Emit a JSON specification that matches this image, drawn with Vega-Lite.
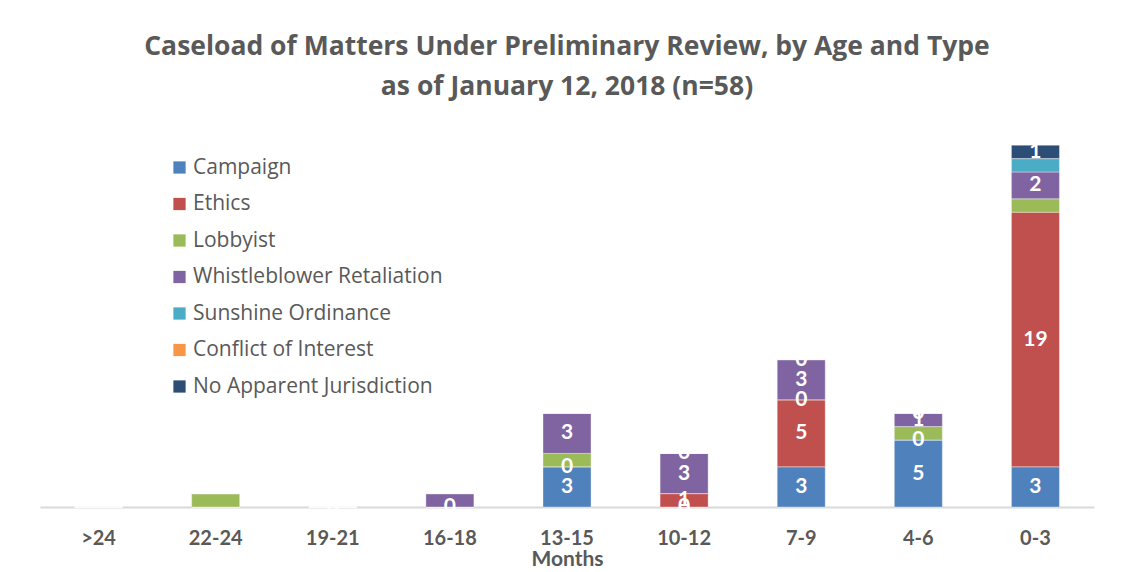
{
  "$schema": "https://vega.github.io/schema/vega-lite/v6.json",
  "width": 1054,
  "height": 402,
  "autosize": "none",
  "padding": {"left": 40, "top": 105, "right": 28, "bottom": 65},
  "background": "white",
  "title": {
    "text": ["Caseload of Matters Under Preliminary Review, by Age and Type", "as of January 12, 2018 (n=58)"],
    "font": "Open Sans",
    "fontSize": 26.5,
    "fontWeight": "bold",
    "color": "#595959",
    "lineHeight": 39.5,
    "anchor": "middle",
    "offset": 5
  },
  "config": {
    "view": {"stroke": null},
    "font": "Lato"
  },
  "datasets": {
    "cases": [
      {"age": ">24", "type": "Campaign", "count": 0, "label": ""},
      {"age": ">24", "type": "Ethics", "count": 0, "label": ""},
      {"age": ">24", "type": "Lobbyist", "count": 0, "label": ""},
      {"age": ">24", "type": "Whistleblower Retaliation", "count": 0, "label": ""},
      {"age": ">24", "type": "Sunshine Ordinance", "count": 0, "label": ""},
      {"age": ">24", "type": "Conflict of Interest", "count": 0, "label": ""},
      {"age": ">24", "type": "No Apparent Jurisdiction", "count": 0, "label": ""},
      {"age": "22-24", "type": "Campaign", "count": 0, "label": ""},
      {"age": "22-24", "type": "Ethics", "count": 0, "label": ""},
      {"age": "22-24", "type": "Lobbyist", "count": 1, "label": ""},
      {"age": "22-24", "type": "Whistleblower Retaliation", "count": 0, "label": ""},
      {"age": "22-24", "type": "Sunshine Ordinance", "count": 0, "label": ""},
      {"age": "22-24", "type": "Conflict of Interest", "count": 0, "label": ""},
      {"age": "22-24", "type": "No Apparent Jurisdiction", "count": 0, "label": ""},
      {"age": "19-21", "type": "Campaign", "count": 0, "label": "0"},
      {"age": "19-21", "type": "Ethics", "count": 0, "label": ""},
      {"age": "19-21", "type": "Lobbyist", "count": 0, "label": ""},
      {"age": "19-21", "type": "Whistleblower Retaliation", "count": 0, "label": ""},
      {"age": "19-21", "type": "Sunshine Ordinance", "count": 0, "label": ""},
      {"age": "19-21", "type": "Conflict of Interest", "count": 0, "label": ""},
      {"age": "19-21", "type": "No Apparent Jurisdiction", "count": 0, "label": ""},
      {"age": "16-18", "type": "Campaign", "count": 0, "label": "0"},
      {"age": "16-18", "type": "Ethics", "count": 0, "label": ""},
      {"age": "16-18", "type": "Lobbyist", "count": 0, "label": ""},
      {"age": "16-18", "type": "Whistleblower Retaliation", "count": 1, "label": ""},
      {"age": "16-18", "type": "Sunshine Ordinance", "count": 0, "label": ""},
      {"age": "16-18", "type": "Conflict of Interest", "count": 0, "label": ""},
      {"age": "16-18", "type": "No Apparent Jurisdiction", "count": 0, "label": ""},
      {"age": "13-15", "type": "Campaign", "count": 3, "label": "3"},
      {"age": "13-15", "type": "Ethics", "count": 0, "label": "0"},
      {"age": "13-15", "type": "Lobbyist", "count": 1, "label": ""},
      {"age": "13-15", "type": "Whistleblower Retaliation", "count": 3, "label": "3"},
      {"age": "13-15", "type": "Sunshine Ordinance", "count": 0, "label": ""},
      {"age": "13-15", "type": "Conflict of Interest", "count": 0, "label": ""},
      {"age": "13-15", "type": "No Apparent Jurisdiction", "count": 0, "label": ""},
      {"age": "10-12", "type": "Campaign", "count": 0, "label": "0"},
      {"age": "10-12", "type": "Ethics", "count": 1, "label": "1"},
      {"age": "10-12", "type": "Lobbyist", "count": 0, "label": ""},
      {"age": "10-12", "type": "Whistleblower Retaliation", "count": 3, "label": "3"},
      {"age": "10-12", "type": "Sunshine Ordinance", "count": 0, "label": ""},
      {"age": "10-12", "type": "Conflict of Interest", "count": 0, "label": ""},
      {"age": "10-12", "type": "No Apparent Jurisdiction", "count": 0, "label": "0"},
      {"age": "7-9", "type": "Campaign", "count": 3, "label": "3"},
      {"age": "7-9", "type": "Ethics", "count": 5, "label": "5"},
      {"age": "7-9", "type": "Lobbyist", "count": 0, "label": "0"},
      {"age": "7-9", "type": "Whistleblower Retaliation", "count": 3, "label": "3"},
      {"age": "7-9", "type": "Sunshine Ordinance", "count": 0, "label": ""},
      {"age": "7-9", "type": "Conflict of Interest", "count": 0, "label": ""},
      {"age": "7-9", "type": "No Apparent Jurisdiction", "count": 0, "label": "0"},
      {"age": "4-6", "type": "Campaign", "count": 5, "label": "5"},
      {"age": "4-6", "type": "Ethics", "count": 0, "label": "0"},
      {"age": "4-6", "type": "Lobbyist", "count": 1, "label": ""},
      {"age": "4-6", "type": "Whistleblower Retaliation", "count": 1, "label": "1"},
      {"age": "4-6", "type": "Sunshine Ordinance", "count": 0, "label": ""},
      {"age": "4-6", "type": "Conflict of Interest", "count": 0, "label": ""},
      {"age": "4-6", "type": "No Apparent Jurisdiction", "count": 0, "label": "0"},
      {"age": "0-3", "type": "Campaign", "count": 3, "label": "3"},
      {"age": "0-3", "type": "Ethics", "count": 19, "label": "19"},
      {"age": "0-3", "type": "Lobbyist", "count": 1, "label": ""},
      {"age": "0-3", "type": "Whistleblower Retaliation", "count": 2, "label": "2"},
      {"age": "0-3", "type": "Sunshine Ordinance", "count": 1, "label": ""},
      {"age": "0-3", "type": "Conflict of Interest", "count": 0, "label": ""},
      {"age": "0-3", "type": "No Apparent Jurisdiction", "count": 1, "label": "1"}
    ]
  },
  "data": {"name": "cases"},
  "transform": [
    {"window": [{"op": "row_number", "as": "stackRank"}], "groupby": ["age"]}
  ],
  "encoding": {
    "x": {
      "field": "age",
      "type": "nominal",
      "sort": [">24", "22-24", "19-21", "16-18", "13-15", "10-12", "7-9", "4-6", "0-3"],
      "scale": {"paddingInner": 0.59, "paddingOuter": 0.295},
      "axis": {
        "title": "Months",
        "titleFont": "Lato",
        "titleFontSize": 21,
        "titleFontWeight": "bold",
        "titleColor": "#595959",
        "titlePadding": 0,
        "labelAngle": 0,
        "labelFont": "Lato",
        "labelFontSize": 20,
        "labelFontWeight": "bold",
        "labelColor": "#595959",
        "labelPadding": 21,
        "ticks": false,
        "domainColor": "#d9d9d9",
        "domainWidth": 2
      }
    },
    "y": {
      "field": "count",
      "type": "quantitative",
      "stack": "zero",
      "scale": {"domain": [0, 30], "nice": false},
      "axis": null
    },
    "order": {"field": "stackRank", "type": "quantitative", "sort": "ascending"}
  },
  "layer": [
    {
      "mark": {"type": "bar", "stroke": "#ffffff", "strokeWidth": 0.6, "strokeOpacity": 0.6},
      "encoding": {
        "color": {
          "field": "type",
          "type": "nominal",
          "sort": ["Campaign", "Ethics", "Lobbyist", "Whistleblower Retaliation", "Sunshine Ordinance", "Conflict of Interest", "No Apparent Jurisdiction"],
          "scale": {
            "domain": ["Campaign", "Ethics", "Lobbyist", "Whistleblower Retaliation", "Sunshine Ordinance", "Conflict of Interest", "No Apparent Jurisdiction"],
            "range": ["#4f81bd", "#c0504d", "#9bbb59", "#8064a2", "#4bacc6", "#f79646", "#2c4d75"]
          },
          "legend": {
            "orient": "none",
            "legendX": 129,
            "legendY": 52,
            "title": null,
            "labelFont": "Open Sans",
            "labelFontSize": 21,
            "labelColor": "#595959",
            "symbolType": "square",
            "symbolSize": 150,
            "symbolStrokeWidth": 0,
            "rowPadding": 14.5,
            "labelOffset": 3,
            "labelLimit": 400
          }
        }
      }
    },
    {
      "mark": {"type": "text", "font": "Lato", "fontSize": 21, "fontWeight": "bold", "baseline": "middle"},
      "encoding": {
        "y": {"field": "count", "type": "quantitative", "stack": "zero", "bandPosition": 0.5},
        "text": {"field": "label", "type": "nominal"},
        "color": {
          "field": "type",
          "type": "nominal",
          "scale": {"range": ["#ffffff"]},
          "legend": null
        }
      }
    }
  ],
  "resolve": {"scale": {"color": "independent"}}
}
